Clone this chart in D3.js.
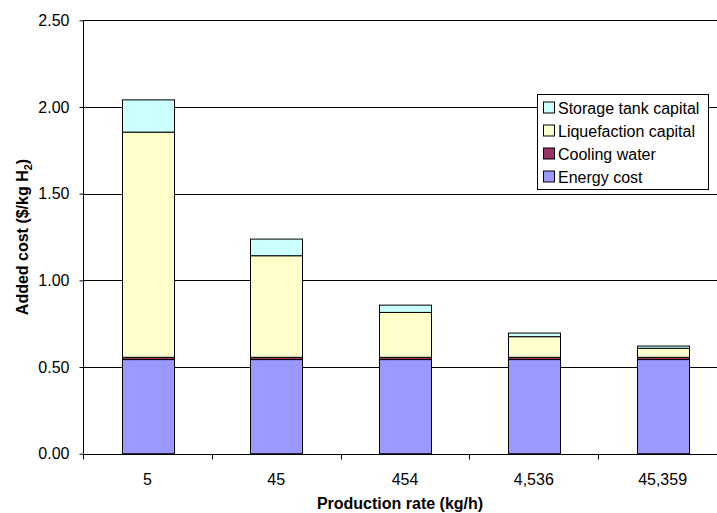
<!DOCTYPE html>
<html>
<head>
<meta charset="utf-8">
<script src="https://cdn.jsdelivr.net/npm/d3@7"></script>
<style>
  html, body { margin: 0; padding: 0; background: #fff; }
  svg { display: block; font-family: "Liberation Sans", Arial, sans-serif; }
</style>
</head>
<body>
<svg id="chart" width="717" height="513"></svg>
<script>
// Production rates (kg/h) shown on the category axis
const categories = ["5", "45", "454", "4,536", "45,359"];

// Cost components, $/kg H2, stacked bottom to top
const energyCost        = [0.543, 0.543, 0.543, 0.543, 0.543];
const coolingWater      = [0.013, 0.013, 0.013, 0.013, 0.013];
const liquefactionCap   = [1.299, 0.586, 0.259, 0.119, 0.052];
const storageTankCap    = [0.186, 0.096, 0.042, 0.021, 0.013];

const yTicks = [0, 0.5, 1.0, 1.5, 2.0, 2.5];

const seriesNames  = ["Energy cost", "Cooling water", "Liquefaction capital", "Storage tank capital"];
const seriesColors = ["#9999FF", "#993366", "#FFFFCC", "#CCFFFF"];
const seriesValues = [energyCost, coolingWater, liquefactionCap, storageTankCap];

const rows = categories.map((c, i) => {
  const r = { cat: c };
  seriesNames.forEach((n, k) => { r[n] = seriesValues[k][i]; });
  return r;
});

const svg = d3.select("#chart");
const plotLeft = 83, plotTop = 20.3, plotBottom = 453.7, plotRight = 727;
const FONT = 16;

const x = d3.scaleBand().domain(categories).range([plotLeft, plotRight]).paddingInner(0.6).paddingOuter(0.3);
const xb = d3.scaleBand().domain(categories).range([plotLeft, plotRight]);
const y = d3.scaleLinear().domain([0, 2.5]).range([plotBottom, plotTop]);

// horizontal gridlines
svg.append("g")
  .selectAll("line")
  .data(yTicks.filter(t => t > 0))
  .join("line")
  .attr("x1", plotLeft).attr("x2", plotRight)
  .attr("y1", d => Math.round(y(d)) + 0.5).attr("y2", d => Math.round(y(d)) + 0.5)
  .attr("stroke", "#000").attr("stroke-width", 1);

// stacked bars
const stack = d3.stack().keys(seriesNames);
const layers = stack(rows);
svg.append("g")
  .selectAll("g")
  .data(layers)
  .join("g")
  .attr("fill", (d, i) => seriesColors[i])
  .selectAll("rect")
  .data(d => d)
  .join("rect")
  .attr("x", d => Math.round(x(d.data.cat)) + 0.5)
  .attr("width", Math.round(x.bandwidth()))
  .attr("y", d => y(d[1]))
  .attr("height", d => y(d[0]) - y(d[1]))
  .attr("stroke", "#000")
  .attr("stroke-width", 1);

// y axis
const yAxis = d3.axisLeft(y).tickValues(yTicks).tickFormat(d3.format(".2f")).tickSize(4).tickPadding(10);
const gy = svg.append("g").attr("transform", `translate(${plotLeft + 0.5},0)`).call(yAxis);
gy.select(".domain").attr("stroke", "#000").attr("d", `M0,${plotTop}V${plotBottom}`);
gy.selectAll(".tick line").attr("stroke", "#000");
gy.selectAll(".tick text").attr("font-size", FONT).attr("fill", "#000")
  .attr("font-family", "Liberation Sans, Arial, sans-serif");

// x axis: baseline with ticks at category boundaries
const gx = svg.append("g").attr("transform", `translate(0,${Math.round(plotBottom) + 0.5})`);
gx.append("line").attr("x1", plotLeft).attr("x2", plotRight).attr("stroke", "#000");
gx.selectAll("line.tk")
  .data(categories)
  .join("line")
  .attr("class", "tk")
  .attr("x1", d => Math.round(xb(d)) + 0.5).attr("x2", d => Math.round(xb(d)) + 0.5)
  .attr("y1", 0).attr("y2", 5)
  .attr("stroke", "#000");
gx.selectAll("text")
  .data(categories)
  .join("text")
  .attr("x", d => xb(d) + xb.bandwidth() / 2)
  .attr("y", 30)
  .attr("text-anchor", "middle")
  .attr("font-size", FONT)
  .text(d => d);

// axis titles
svg.append("text")
  .attr("x", 400).attr("y", 509)
  .attr("text-anchor", "middle")
  .attr("font-size", FONT).attr("font-weight", "bold")
  .text("Production rate (kg/h)");

const yt = svg.append("text")
  .attr("transform", `translate(28,${(plotTop + plotBottom) / 2}) rotate(-90)`)
  .attr("text-anchor", "middle")
  .attr("font-size", FONT).attr("font-weight", "bold");
yt.append("tspan").text("Added cost ($/kg H");
yt.append("tspan").attr("font-size", 11).attr("dy", 4).text("2");
yt.append("tspan").attr("dy", -4).text(")");

// legend, listed top to bottom in reverse stacking order
const lg = svg.append("g");
lg.append("rect")
  .attr("x", 537.5).attr("y", 94.5).attr("width", 171).attr("height", 95)
  .attr("fill", "#fff").attr("stroke", "#000");
const order = [3, 2, 1, 0];
order.forEach((k, j) => {
  const cy = 107.5 + j * 23;
  lg.append("rect")
    .attr("x", 543.5).attr("y", cy - 5.5).attr("width", 11).attr("height", 11)
    .attr("fill", seriesColors[k]).attr("stroke", "#000");
  lg.append("text")
    .attr("x", 558).attr("y", cy + 6)
    .attr("font-size", FONT)
    .text(seriesNames[k]);
});
</script>
</body>
</html>
